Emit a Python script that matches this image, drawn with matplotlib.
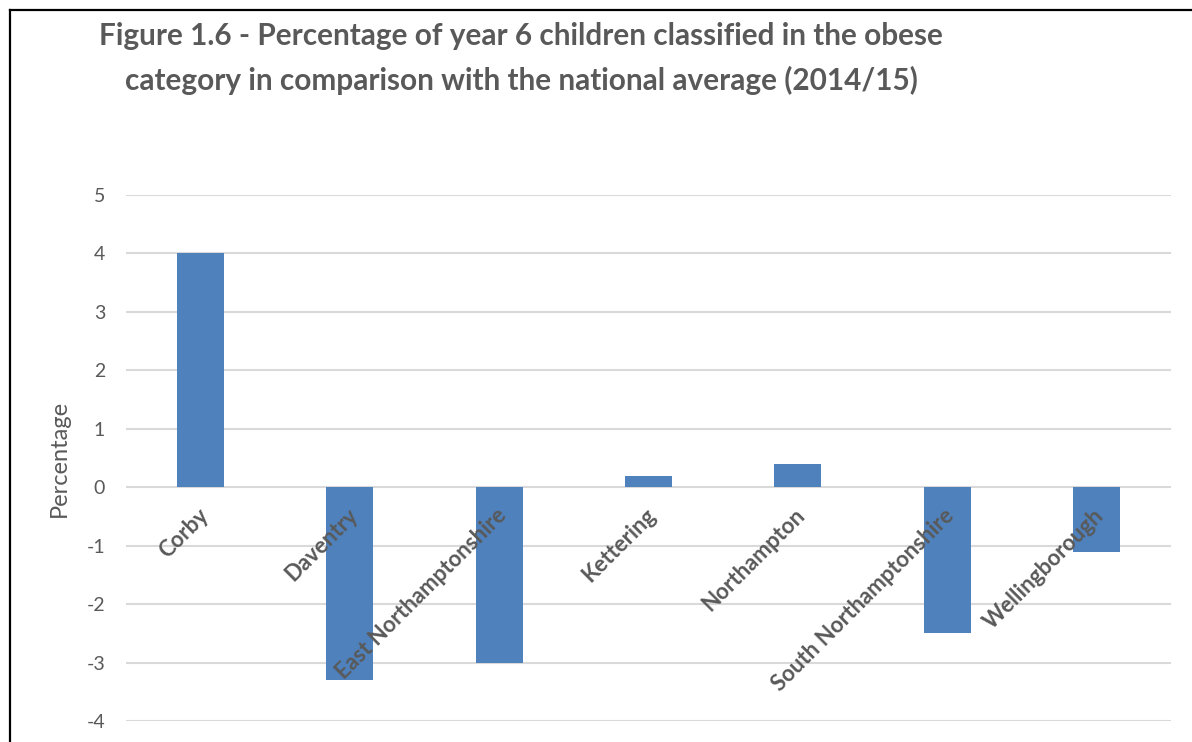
import matplotlib
matplotlib.use("Agg")
import matplotlib.pyplot as plt
from matplotlib.lines import Line2D

categories = ["Corby", "Daventry", "East Northamptonshire", "Kettering",
              "Northampton", "South Northamptonshire", "Wellingborough"]
values = [4.0, -3.3, -3.0, 0.2, 0.4, -2.5, -1.1]
yticks = [-4, -3, -2, -1, 0, 1, 2, 3, 4, 5]
title = ("Figure 1.6 - Percentage of year 6 children classified in the obese\n"
         "category in comparison with the national average (2014/15)")

plt.rcParams['font.family'] = ['Lato', 'DejaVu Sans']
gray = "#595959"

fig = plt.figure(figsize=(11.92, 7.42), dpi=100)
W, H = 1192, 742
ax = fig.add_axes([126 / W, 1 - 721 / H, (1171 - 126) / W, (721 - 195) / H])

x = list(range(len(categories)))
ax.bar(x, values, width=0.315, color="#4F81BD", zorder=3)
ax.set_xlim(-0.5, len(categories) - 0.5)
ax.set_ylim(-4, 5)
ax.set_yticks(yticks)
ax.set_yticklabels([str(v) for v in yticks], color=gray, fontsize=14)
ax.tick_params(axis='y', length=0, pad=15)
ax.set_xticks([])
ax.grid(axis='y', color="#D9D9D9", linewidth=1.5, zorder=0)
for s in ax.spines.values():
    s.set_visible(False)
ax.set_ylabel("Percentage", color=gray, fontsize=17, labelpad=12)

for i, c in enumerate(categories):
    ax.annotate(c, xy=(i, 0), xytext=(3, -18), textcoords='offset points',
                rotation=45, ha='right', va='center', rotation_mode='anchor',
                fontsize=16, fontweight='bold', color=gray)

fig.text(521 / W, 1 - 58.5 / H, title, ha='center', va='center', fontsize=21.4,
         fontweight='bold', color=gray, linespacing=1.65)

fig.add_artist(Line2D([10 / W, 10 / W], [0, 1 - 10 / H], color='black', lw=1.6))
fig.add_artist(Line2D([10 / W, 1], [1 - 10 / H, 1 - 10 / H], color='black', lw=1.6))

fig.savefig("out.png", dpi=100)
